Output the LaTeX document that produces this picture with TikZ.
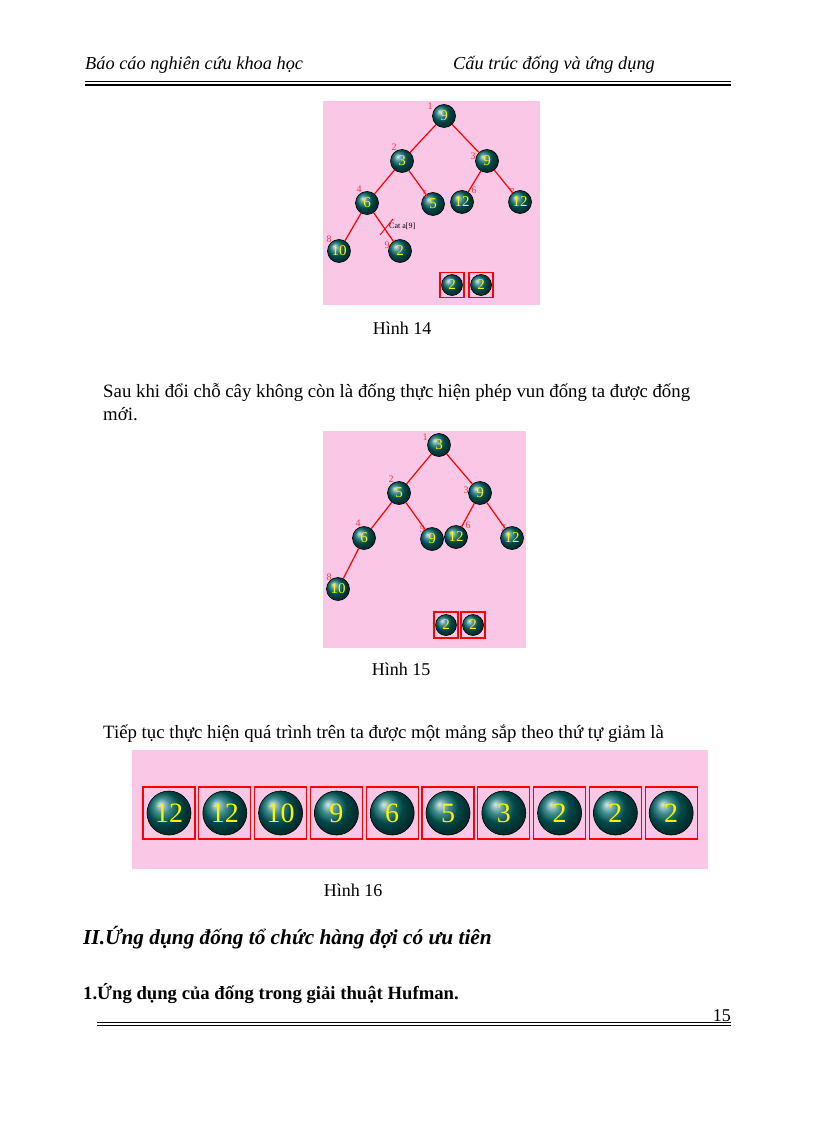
\documentclass[tikz,border=0pt]{standalone}
\usepackage{fontspec}
\setmainfont{Liberation Serif}
\begin{document}
\begin{tikzpicture}[x=1pt,y=-1pt,
 ball/.style={circle,minimum size=#1,inner sep=0pt,ball color=cyan!40!black,text=yellow,draw=black,line width=0.6pt},
 ball/.default=23pt,
 lbl/.style={text=red!80,font=\fontsize{10}{11}\selectfont,inner sep=0pt},
 edge/.style={red,line width=1.2pt},
 rbox/.style={draw=red,line width=1.3pt,fill=none},
 bg/.style={fill=magenta!22}]
\useasboundingbox (0,0) rectangle (816,1123);
\fill[white] (0,0) rectangle (816,1123);
% header
\node[anchor=base west,font=\itshape\fontsize{18.3}{20}\selectfont,inner sep=0pt] (h1) at (85,70) {Báo cáo nghiên cứu khoa học};
\node[anchor=base west,font=\itshape\fontsize{18.3}{20}\selectfont,inner sep=0pt] (h2) at (453,70) {Cấu trúc đống và ứng dụng};
\draw[line width=0.6pt] (85,81.5) -- (731,81.5);
\draw[line width=1.5pt] (85,85) -- (731,85);
% tree 1
\fill[bg] (323,101) rectangle (540,305);
\begin{scope}[font=\fontsize{15}{16}\selectfont]
\node[ball] (a1) at (444,116) {9};
\node[ball] (a2) at (402,161) {3};
\node[ball] (a3) at (487,161) {9};
\node[ball] (a4) at (367,203) {6};
\node[ball] (a5) at (433,204) {5};
\node[ball] (a6) at (462,202) {12};
\node[ball] (a7) at (520,202) {12};
\node[ball] (a8) at (339,251) {10};
\node[ball] (a9) at (400,251) {2};
\draw[edge] (a1)--(a2); \draw[edge] (a1)--(a3); \draw[edge] (a2)--(a4); \draw[edge] (a2)--(a5);
\draw[edge] (a3)--(a6); \draw[edge] (a3)--(a7); \draw[edge] (a4)--(a8); \draw[edge] (a4)--(a9);
\draw[red,line width=0.9pt] (380,235)--(393,219);
\node[font=\fontsize{8}{9}\selectfont,anchor=west,inner sep=0pt] (cut) at (389,226) {Cat a[9]};
\node[lbl] at (430,106) {1}; \node[lbl] at (394,147) {2}; \node[lbl] at (473,156) {3};
\node[lbl] at (359,189) {4}; \node[lbl] at (425,194) {5}; \node[lbl] at (474,190) {6};
\node[lbl] at (512,192) {7}; \node[lbl] at (329,239) {8}; \node[lbl] at (387,245) {9};
\node[rbox,minimum width=24pt,minimum height=25pt] (b1) at (452,285) {};
\node[rbox,minimum width=24pt,minimum height=25pt] (b2) at (481,285) {};
\node[ball=21pt] at (b1) {2}; \node[ball=21pt] at (b2) {2};
\end{scope}
\node[font=\fontsize{18}{20}\selectfont] (c14) at (402,328) {Hình 14};
\node[anchor=base west,font=\fontsize{18.8}{21}\selectfont,inner sep=0pt] (p1) at (103,397) {Sau khi đổi chỗ cây không còn là đống thực hiện phép vun đống ta được đống};
\node[anchor=base west,font=\fontsize{18.8}{21}\selectfont,inner sep=0pt] (p2) at (103,420) {mới.};
% tree 2
\fill[bg] (323,431) rectangle (526,648);
\begin{scope}[font=\fontsize{15}{16}\selectfont]
\node[ball] (d1) at (439,445) {3};
\node[ball] (d2) at (399,493) {5};
\node[ball] (d3) at (480,493) {9};
\node[ball] (d4) at (364,538) {6};
\node[ball] (d5) at (432,539) {9};
\node[ball] (d6) at (456,537) {12};
\node[ball] (d7) at (512,538) {12};
\node[ball] (d8) at (338,589) {10};
\draw[edge] (d1)--(d2); \draw[edge] (d1)--(d3); \draw[edge] (d2)--(d4); \draw[edge] (d2)--(d5);
\draw[edge] (d3)--(d6); \draw[edge] (d3)--(d7); \draw[edge] (d4)--(d8);
\node[lbl] at (425,437) {1}; \node[lbl] at (391,479) {2}; \node[lbl] at (466,490) {3};
\node[lbl] at (358,523) {4}; \node[lbl] at (422,529) {5}; \node[lbl] at (468,525) {6};
\node[lbl] at (503,528) {7}; \node[lbl] at (329,577) {8};
\node[rbox,minimum width=24pt,minimum height=26pt] (e1) at (446,625) {};
\node[rbox,minimum width=24pt,minimum height=26pt] (e2) at (473,625) {};
\node[ball=21pt] at (e1) {2}; \node[ball=21pt] at (e2) {2};
\end{scope}
\node[font=\fontsize{18}{20}\selectfont] (c15) at (401,669) {Hình 15};
\node[anchor=base west,font=\fontsize{18.8}{21}\selectfont,inner sep=0pt] (p3) at (103,738) {Tiếp tục thực hiện quá trình trên ta được một mảng sắp theo thứ tự giảm là};
% array
\fill[bg] (132,750) rectangle (708,869);
\foreach \v [count=\i] in {12,12,10,9,6,5,3,2,2,2}{
  \node[rbox,minimum width=52pt,minimum height=52pt] (f\i) at ({169+55.8*(\i-1)},813) {};
  \node[ball=44pt,font=\fontsize{28}{30}\selectfont] at (f\i) {\v};
}
\node[font=\fontsize{18}{20}\selectfont] (c16) at (353,890) {Hình 16};
\node[anchor=base west,font=\bfseries\itshape\fontsize{21.3}{24}\selectfont,inner sep=0pt] (s1) at (83,944) {II.Ứng dụng đống tổ chức hàng đợi có ưu tiên};
\node[anchor=base west,font=\bfseries\fontsize{18.7}{21}\selectfont,inner sep=0pt] (s2) at (83,999) {1.Ứng dụng của đống trong giải thuật Hufman.};
% footer
\node[anchor=base east,font=\fontsize{18}{20}\selectfont,inner sep=0pt] (pg) at (731,1021) {15};
\draw[line width=0.6pt] (97,1022) -- (731,1022);
\draw[line width=1.5pt] (97,1025.5) -- (731,1025.5);
\end{tikzpicture}
\end{document}
